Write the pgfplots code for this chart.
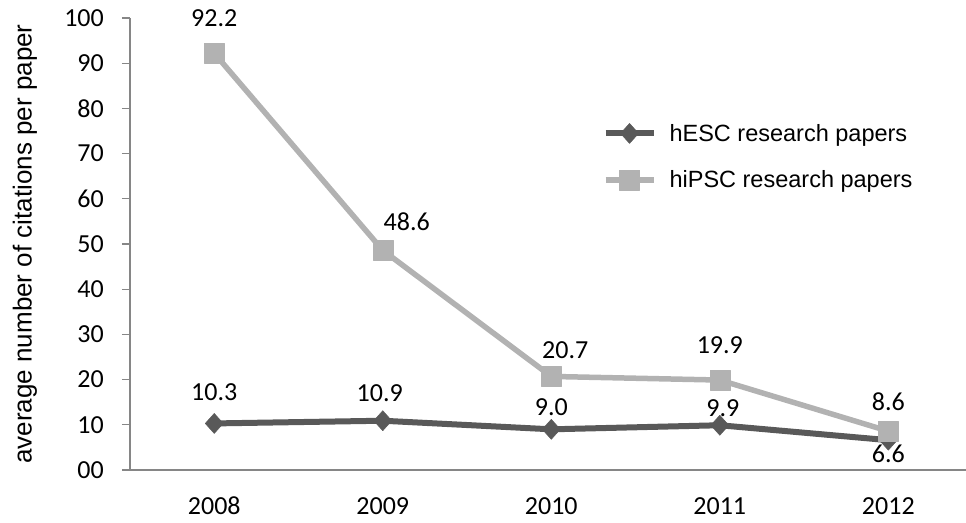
\documentclass[border=0pt]{standalone}
\usepackage{fontspec}
\setmainfont{Carlito}
\newfontfamily\arial{Liberation Sans}
\usepackage{pgfplots}
\usepackage{pgfplotstable}
\pgfplotsset{compat=1.18}

\definecolor{darkser}{HTML}{595959}
\definecolor{lightser}{HTML}{B2B2B2}
\definecolor{axisgray}{HTML}{868686}

% x = year index, dx/dy = label offset from the point (pt)
\pgfplotstableread{
x y lab dx dy
0 10.3 10.3 0 31
1 10.9 10.9 -3 28
2 9.0 9.0 0 22
3 9.9 9.9 3 17
4 6.6 6.6 0 -14
}\hesc
\pgfplotstableread{
x y lab dx dy
0 92.2 92.2 0 35
1 48.6 48.6 24 29
2 20.7 20.7 14 26
3 19.9 19.9 0 35
4 8.6 8.6 0 29
}\hipsc

\pgfplotsset{
  lbl/.style={
    point meta=explicit symbolic,
    nodes near coords,
    visualization depends on={\thisrow{dx}\as\dx},
    visualization depends on={\thisrow{dy}\as\dy},
    nodes near coords style={font=\fontsize{26}{30}\selectfont, text=black, anchor=center,
      inner sep=0pt, xshift=\dx pt, yshift=\dy pt},
  },
}

\begin{document}
\begin{tikzpicture}
\begin{axis}[
  scale only axis, width=836pt, height=452pt,
  xmin=-0.5, xmax=4.461, ymin=0, ymax=100,
  clip=false,
  axis x line=bottom, axis y line=left,
  axis line style={-, draw=axisgray, line width=1.3pt},
  xtick={0,...,4}, xticklabels={2008,2009,2010,2011,2012},
  ytick={0,10,...,100}, yticklabels={00,10,20,30,40,50,60,70,80,90,100},
  x tick style={draw=none},
  y tick style={draw=axisgray, line width=1.3pt},
  tick align=outside, major tick length=8pt,
  ticklabel style={font=\fontsize{26}{30}\selectfont, inner sep=0pt},
  yticklabel style={xshift=-18pt},
  xticklabel style={yshift=-19pt},
  ylabel={average number of citations per paper},
  ylabel style={font=\arial\fontsize{26}{30}\selectfont, at={(axis description cs:-0.1256,0.5)}, anchor=center},
  legend style={at={(axis cs:2.303,77)}, anchor=north west, draw=none, fill=none,
    inner sep=0pt, font=\arial\fontsize{23.5}{28}\selectfont, row sep=24pt, column sep=11pt,
    cells={anchor=west}},
  legend image code/.code={\draw[mark repeat=2,mark phase=2,#1] plot coordinates {(0pt,0pt) (24pt,0pt) (48pt,0pt)};},
]
\addplot[color=darkser, line width=6pt, line join=round, mark=diamond*, mark size=10pt,
  mark options={line width=0.5pt, fill=darkser, xscale=1.2}, lbl]
  table[x=x, y=y, meta=lab] {\hesc};
\addlegendentry{hESC research papers}
\addplot[color=lightser, line width=5.5pt, line join=round, mark=square*, mark size=10pt,
  mark options={line width=0.5pt, fill=lightser}, lbl]
  table[x=x, y=y, meta=lab] {\hipsc};
\addlegendentry{hiPSC research papers}
\end{axis}
\pgfresetboundingbox
\path[use as bounding box] (-130pt,-52pt) rectangle (836pt,470pt);
\end{tikzpicture}
\end{document}
